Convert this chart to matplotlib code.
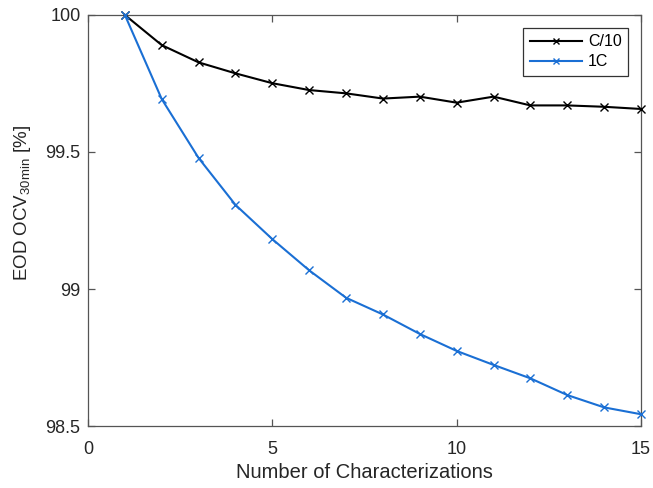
import matplotlib
matplotlib.use("Agg")
import matplotlib.pyplot as plt

plt.rcParams['font.family'] = ['Liberation Sans', 'DejaVu Sans']

cycles = list(range(1, 16))
ocv_c10 = [100.0, 99.89, 99.827, 99.787, 99.751, 99.726, 99.714, 99.695,
           99.702, 99.680, 99.702, 99.670, 99.670, 99.665, 99.657]
ocv_1c = [100.0, 99.693, 99.478, 99.307, 99.182, 99.068, 98.968, 98.907,
          98.836, 98.774, 98.723, 98.674, 98.613, 98.568, 98.543]
series_labels = ['C/10', '1C']
x_ticks = [0, 5, 10, 15]
y_ticks = [98.5, 99, 99.5, 100]
y_tick_labels = ['98.5', '99', '99.5', '100']

fig = plt.figure(figsize=(6.53, 4.88), dpi=100)
ax = fig.add_axes([0.1348, 0.127, 0.8468, 0.8423])

ax.plot(cycles, ocv_c10, color='black', lw=1.5, marker='x', ms=6, mew=1.0,
        label=series_labels[0], clip_on=False, zorder=3)
ax.plot(cycles, ocv_1c, color='#1a6fd4', lw=1.5, marker='x', ms=6, mew=1.0,
        label=series_labels[1], clip_on=False, zorder=3)

ax.set_xlim(0, 15)
ax.set_ylim(98.5, 100)
ax.set_xticks(x_ticks)
ax.set_yticks(y_ticks)
ax.set_yticklabels(y_tick_labels)

axis_grey = '#262626'
for s in ax.spines.values():
    s.set_color('#555555')
    s.set_linewidth(0.9)
ax.tick_params(direction='in', top=True, right=True, length=5, width=0.9,
               colors='#555555', labelcolor=axis_grey, labelsize=13)
ax.tick_params(axis='x', pad=10.5)
ax.tick_params(axis='y', pad=5.5)

ax.set_xlabel('Number of Characterizations', fontsize=14.5, color=axis_grey, labelpad=4)
ax.set_ylabel(r'EOD OCV$_{\mathregular{30min}}$ [%]', fontsize=13.5, color=axis_grey)
ax.yaxis.set_label_coords(-0.099, 0.5426)

leg = ax.legend(loc='upper right', bbox_to_anchor=(0.9765, 0.9684), borderaxespad=0,
                fontsize=11.5, fancybox=False, framealpha=1, edgecolor='#333333',
                handlelength=3.3, borderpad=0.4, labelspacing=0.3,
                handletextpad=0.35)
leg.get_frame().set_linewidth(0.9)
for h in leg.legend_handles:
    h.set_markersize(4.5)

fig.savefig('out.png', dpi=100)
